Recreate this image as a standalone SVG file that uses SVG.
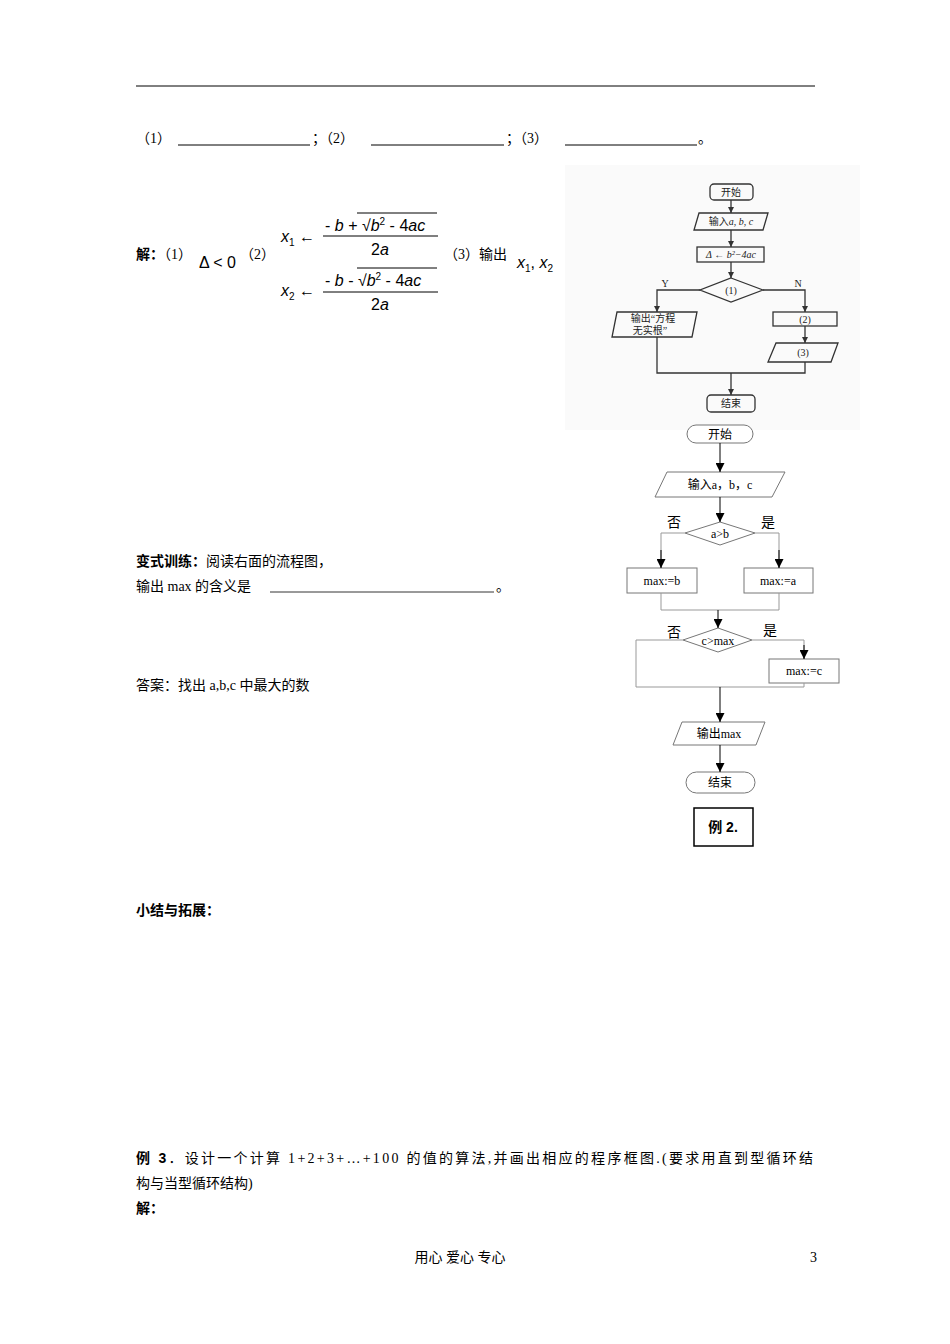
<svg xmlns="http://www.w3.org/2000/svg" width="950" height="1344" viewBox="0 0 950 1344">
<style>
text{font-family:"Liberation Serif","Noto Sans CJK SC",serif;font-size:14px;fill:#000}
.b{font-weight:bold;font-family:"Liberation Sans","Noto Sans CJK SC",sans-serif}
.m{font-family:"Liberation Sans","DejaVu Sans",sans-serif;font-style:italic;font-size:16px}
.mu{font-family:"Liberation Sans","DejaVu Sans",sans-serif;font-size:16px}
.g{fill:#fff;stroke:#777;stroke-width:1}
.o{fill:#fafafa;stroke:#333;stroke-width:1.3}
.c{fill:none;stroke:#000;stroke-width:1}
.cg{fill:none;stroke:#999;stroke-width:1}
.co{fill:none;stroke:#333;stroke-width:1.3}
.t{font-size:12px;text-anchor:middle}
.ts{font-size:10px;text-anchor:middle;fill:#222}
</style>
<defs>
<marker id="a" viewBox="0 0 10 10" refX="10" refY="5" markerWidth="9" markerHeight="9" markerUnits="userSpaceOnUse" orient="auto"><path d="M0,0L10,5L0,10z" fill="#000"/></marker>
<marker id="a2" viewBox="0 0 10 10" refX="10" refY="5" markerWidth="6" markerHeight="6" markerUnits="userSpaceOnUse" orient="auto"><path d="M0,0L10,5L0,10z" fill="#333"/></marker>
</defs>
<line x1="136" y1="86" x2="815" y2="86" stroke="#000" stroke-width="1"/>
<text x="136" y="143">（1）</text><line x1="178" y1="145" x2="310" y2="145" stroke="#000"/><text x="312" y="143">；（2）</text>
<line x1="371" y1="145" x2="504" y2="145" stroke="#000"/><text x="506" y="143">；（3）</text>
<line x1="565" y1="145" x2="697" y2="145" stroke="#000"/><text x="698" y="143">。</text>

<text x="136" y="259"><tspan class="b">解：</tspan>（1）</text>
<text x="199" y="268" class="mu">Δ &lt; 0</text>
<text x="240" y="259">（2）</text>
<text x="281" y="242" class="m">x<tspan font-size="10" dy="4" font-style="normal">1</tspan><tspan dy="-4" font-style="normal"> ←</tspan></text>
<text x="325" y="231" class="mu">- <tspan font-style="italic">b</tspan> + √<tspan font-style="italic">b</tspan><tspan font-size="10" dy="-6">2</tspan><tspan dy="6"> - 4</tspan><tspan font-style="italic">ac</tspan></text>
<line x1="357" y1="213" x2="437" y2="213" stroke="#000"/>
<line x1="323" y1="236" x2="438" y2="236" stroke="#000"/>
<text x="371" y="255" class="mu">2<tspan font-style="italic">a</tspan></text>
<text x="281" y="296" class="m">x<tspan font-size="10" dy="4" font-style="normal">2</tspan><tspan dy="-4" font-style="normal"> ←</tspan></text>
<text x="325" y="286" class="mu">- <tspan font-style="italic">b</tspan> - √<tspan font-style="italic">b</tspan><tspan font-size="10" dy="-6">2</tspan><tspan dy="6"> - 4</tspan><tspan font-style="italic">ac</tspan></text>
<line x1="357" y1="268" x2="437" y2="268" stroke="#000"/>
<line x1="323" y1="292" x2="438" y2="292" stroke="#000"/>
<text x="371" y="310" class="mu">2<tspan font-style="italic">a</tspan></text>
<text x="444" y="259">（3）输出</text>
<text x="517" y="268" class="m">x<tspan font-size="10" dy="4" font-style="normal">1</tspan><tspan dy="-4" font-style="normal">, </tspan>x<tspan font-size="10" dy="4" font-style="normal">2</tspan></text>

<text x="136" y="566"><tspan class="b">变式训练：</tspan>阅读右面的流程图，</text>
<text x="136" y="591">输出 max 的含义是</text>
<line x1="270" y1="592" x2="494" y2="592" stroke="#000" stroke-width="0.8"/>
<text x="496" y="591">。</text>
<text x="136" y="690">答案：找出 a,b,c 中最大的数</text>
<text x="136" y="915" class="b">小结与拓展：</text>
<text x="136" y="1163" textLength="677" lengthAdjust="spacing"><tspan class="b">例 3</tspan>．设计一个计算 1+2+3+…+100 的值的算法,并画出相应的程序框图.(要求用直到型循环结</text>
<text x="136" y="1188">构与当型循环结构)</text>
<text x="136" y="1213" class="b">解：</text>
<text x="460" y="1262" text-anchor="middle" font-size="13">用心  爱心  专心</text>
<text x="810" y="1262" font-size="13" font-family="Liberation Sans,sans-serif">3</text>

<g id="old-chart">
<rect x="565" y="165" width="295" height="265" fill="#fafafa"/>
<g id="o-start"><rect class="o" x="710" y="184" width="43" height="16" rx="4"/><text class="ts" x="731" y="196">开始</text></g>
<g id="o-input"><polygon class="o" points="699,213 768,213 763,230 694,230"/><text class="ts" x="731" y="225">输入<tspan font-style="italic">a</tspan>, <tspan font-style="italic">b</tspan>, <tspan font-style="italic">c</tspan></text></g>
<g id="o-delta"><rect class="o" x="697" y="247" width="67" height="15"/><text class="ts" x="731" y="258" font-style="italic">Δ ← b²−4ac</text></g>
<g id="o-d1"><polygon class="o" points="731,278 763,290 731,302 700,290"/><text class="ts" x="731" y="294">(1)</text></g>
<g id="o-out1"><polygon class="o" points="617,312 697,312 692,337 612,337"/><text class="ts" x="653" y="322">输出“方程</text><text class="ts" x="650" y="334">无实根”</text></g>
<g id="o-p2"><rect class="o" x="773" y="312" width="64" height="14"/><text class="ts" x="805" y="323">(2)</text></g>
<g id="o-p3"><polygon class="o" points="776,343 838,343 831,362 768,362"/><text class="ts" x="803" y="356">(3)</text></g>
<g id="o-end"><rect class="o" x="707" y="395" width="48" height="17" rx="4"/><text class="ts" x="731" y="407">结束</text></g>
<text class="ts" x="665" y="287" font-size="9">Y</text><text class="ts" x="798" y="287" font-size="9">N</text>
<g id="o-conn">
<line class="co" x1="731" y1="200" x2="731" y2="213" marker-end="url(#a2)"/>
<line class="co" x1="731" y1="230" x2="731" y2="247" marker-end="url(#a2)"/>
<line class="co" x1="731" y1="262" x2="731" y2="278" marker-end="url(#a2)"/>
<polyline class="co" points="700,290 657,290 657,312" marker-end="url(#a2)"/>
<polyline class="co" points="763,290 805,290 805,312" marker-end="url(#a2)"/>
<line class="co" x1="805" y1="326" x2="805" y2="343" marker-end="url(#a2)"/>
<polyline class="co" points="657,337 657,373 731,373"/>
<polyline class="co" points="805,362 805,373 731,373"/>
<line class="co" x1="731" y1="373" x2="731" y2="395" marker-end="url(#a2)"/>
</g>
</g>

<g id="start"><rect class="g" x="687" y="425" width="66" height="18" rx="9"/><text class="t" x="720" y="439">开始</text></g>
<g id="input"><polygon class="g" points="667,472 785,472 772,497 655,497"/><text class="t" x="720" y="489">输入a，b，c</text></g>
<g id="d1"><polygon class="g" points="720,522 755,533 720,545 685,533"/><text class="t" x="720" y="538">a&gt;b</text></g>
<g id="maxb"><rect class="g" x="627" y="568" width="70" height="25"/><text class="t" x="662" y="585">max:=b</text></g>
<g id="maxa"><rect class="g" x="744" y="568" width="69" height="25"/><text class="t" x="778" y="585">max:=a</text></g>
<g id="d2"><polygon class="g" points="718,628 752,640 718,652 683,640"/><text class="t" x="718" y="645">c&gt;max</text></g>
<g id="maxc"><rect class="g" x="769" y="659" width="70" height="24"/><text class="t" x="804" y="675">max:=c</text></g>
<g id="out"><polygon class="g" points="682,722 765,722 756,745 673,745"/><text class="t" x="719" y="738">输出max</text></g>
<g id="end"><rect class="g" x="686" y="772" width="69" height="21" rx="10.5"/><text class="t" x="720" y="787">结束</text></g>
<g id="label"><rect x="694" y="808" width="59" height="38" fill="#fff" stroke="#000" stroke-width="1.5"/><text class="b" x="723" y="832" text-anchor="middle" font-size="14">例 2.</text></g>
<text x="667" y="527" font-size="13">否</text><text x="761" y="527" font-size="13">是</text>
<text x="667" y="637" font-size="13">否</text><text x="763" y="635" font-size="13">是</text>
<g id="connectors">
<line class="c" x1="720" y1="443" x2="720" y2="472" marker-end="url(#a)"/>
<line class="c" x1="720" y1="497" x2="720" y2="522" marker-end="url(#a)"/>
<polyline class="cg" points="685,533 661,533 661,568"/>
<line class="c" x1="661" y1="550" x2="661" y2="568" marker-end="url(#a)"/>
<polyline class="cg" points="755,533 779,533 779,568"/>
<line class="c" x1="779" y1="550" x2="779" y2="568" marker-end="url(#a)"/>
<polyline class="cg" points="661,593 661,610 779,610 779,593"/>
<line class="c" x1="718" y1="610" x2="718" y2="628" marker-end="url(#a)"/>
<polyline class="cg" points="683,640 636,640 636,687 804,687 804,683"/>
<polyline class="cg" points="752,640 804,640 804,659"/>
<line class="c" x1="804" y1="645" x2="804" y2="659" marker-end="url(#a)"/>
<line class="c" x1="720" y1="687" x2="720" y2="722" marker-end="url(#a)"/>
<line class="c" x1="720" y1="745" x2="720" y2="772" marker-end="url(#a)"/>
</g>
</svg>
